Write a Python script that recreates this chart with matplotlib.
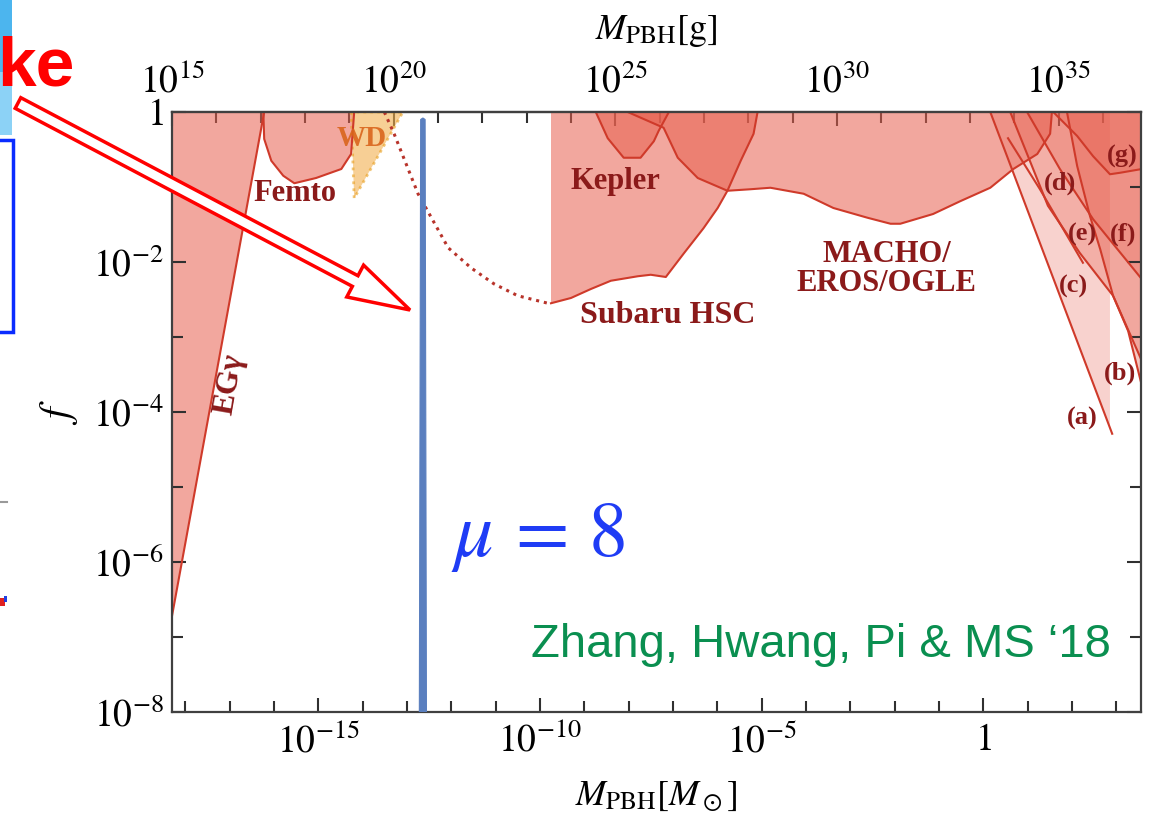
import numpy as np
import matplotlib
matplotlib.use('Agg')
import matplotlib.pyplot as plt
from matplotlib.patches import Polygon, Rectangle, FancyArrow
from matplotlib.ticker import FixedLocator, FixedFormatter, LogLocator, NullFormatter

plt.rcParams['mathtext.fontset'] = 'stix'
plt.rcParams['font.family'] = ['Liberation Serif', 'DejaVu Serif']

MSUN_G = 1.989e33

# all values are log10(M / Msun) and log10(f)
egg_logm = [-18.30, -16.22]
egg_logf = [-6.72, 0.0]

femto_logm = [-16.24, -16.22, -16.06, -15.79, -15.54, -15.05, -14.48, -14.26, -14.19]
femto_logf = [0.0, -0.36, -0.65, -0.85, -0.95, -0.88, -0.76, -0.56, 0.0]

wd_logm = [-14.26, -14.19, -13.09]
wd_logf = [0.0, -1.15, 0.0]

dotted_logm = [-13.51, -13.29, -12.75, -12.07, -11.55, -11.04, -10.50, -9.82]
dotted_logf = [0.0, -0.29, -1.09, -1.81, -2.08, -2.29, -2.45, -2.55]

hsc_logm = [-9.75, -9.75, -9.30, -8.85, -8.40, -7.79, -7.50, -7.16, -6.76, -6.31,
            -5.99, -5.77, -5.47, -5.18, -5.09]
hsc_logf = [0.0, -2.55, -2.48, -2.36, -2.25, -2.19, -2.17, -2.20, -1.89, -1.55,
            -1.28, -1.05, -0.65, -0.29, 0.0]

kepler_logm = [-8.74, -8.47, -8.11, -7.73, -7.43, -7.32, -7.09]
kepler_logf = [0.0, -0.35, -0.61, -0.61, -0.39, -0.25, 0.0]

macho_logm = [-8.02, -7.21, -6.89, -6.44, -5.77, -5.25, -4.80, -4.05, -3.38, -2.61,
              -2.09, -1.87, -1.13, -0.52, 0.16, 0.68, 1.22, 1.51, 1.55]
macho_logf = [0.0, -0.21, -0.61, -0.88, -1.05, -1.03, -1.01, -1.09, -1.28, -1.41,
              -1.49, -1.49, -1.36, -1.19, -1.01, -0.76, -0.56, -0.29, 0.0]

# large-mass constraints (a)-(g)
a_logm = [0.16, 2.91]
a_logf = [0.0, -4.29]
a_cut = 2.86
b_logm = [1.89, 2.12, 2.41, 2.64, 2.93, 3.27, 3.58]
b_logf = [0.0, -0.72, -1.39, -1.83, -2.45, -2.92, -3.65]
c_logm = [0.61, 1.46, 2.18, 2.93, 3.58]
c_logf = [0.0, -1.25, -1.88, -2.45, -3.32]
d_logm = [0.56, 1.28, 2.25]
d_logf = [-0.35, -1.03, -2.01]
f_logm = [0.99, 1.73, 2.48, 3.58]
f_logf = [0.0, -0.76, -1.43, -2.23]
g_logm = [1.58, 2.12, 2.48, 2.86, 3.09, 3.58]
g_logf = [0.0, -0.32, -0.59, -0.83, -0.81, -0.76]

# the mu = 8 peak
spike_logm = [-12.72, -12.69, -12.64, -12.59, -12.56]
spike_logf = [-8.0, -0.10, -0.08, -0.10, -8.0]

XMIN, XMAX = -18.30, 3.56
FILL = '#e8604f'
EDGE = '#cf3a2a'
LABEL = '#8b1a1a'


def p(lm, lf):
    return np.column_stack([10.0 ** np.asarray(lm), 10.0 ** np.asarray(lf)])


fig = plt.figure(figsize=(11.51, 8.24), dpi=100)
ax = fig.add_axes([172 / 1151, 1 - 712 / 824, (1141 - 172) / 1151, 600 / 824])
ax.set_xscale('log')
ax.set_yscale('log')
ax.set_xlim(10 ** XMIN, 10 ** XMAX)
ax.set_ylim(1e-8, 1)

# EG gamma
eg = p(egg_logm + [XMIN], egg_logf + [0.0])
ax.add_patch(Polygon(eg, closed=True, fc=FILL, alpha=0.55, ec='none'))
ax.plot(*p(egg_logm, egg_logf).T, color=EDGE, lw=1.5)

# femto lensing
ax.add_patch(Polygon(p(femto_logm, femto_logf), closed=True, fc=FILL, alpha=0.55, ec='none'))
ax.plot(*p(femto_logm, femto_logf).T, color=EDGE, lw=1.5)

# white dwarfs
ax.add_patch(Polygon(p(wd_logm, wd_logf), closed=True, fc='#f2b04e', alpha=0.6,
                     ec='#e8a020', lw=2, ls=(0, (1, 1.5))))

# projected HSC reach
ax.plot(*p(dotted_logm, dotted_logf).T, color='#b8332a', lw=2.2, ls=(0, (1, 1.6)))

# Subaru HSC
ax.add_patch(Polygon(p(hsc_logm, hsc_logf), closed=True, fc=FILL, alpha=0.55, ec='none'))
ax.plot(*p(hsc_logm[1:], hsc_logf[1:]).T, color=EDGE, lw=1.5)

# Kepler
ax.add_patch(Polygon(p(kepler_logm, kepler_logf), closed=True, fc=FILL, alpha=0.55, ec='none'))
ax.plot(*p(kepler_logm, kepler_logf).T, color=EDGE, lw=1.5)

# MACHO / EROS / OGLE
ax.add_patch(Polygon(p(macho_logm, macho_logf), closed=True, fc=FILL, alpha=0.55, ec='none'))
ax.plot(*p(macho_logm, macho_logf).T, color=EDGE, lw=1.5)

# (a)
a_y = np.interp(a_cut, a_logm, a_logf)
ax.add_patch(Polygon(p([a_logm[0], a_cut, a_cut], [0.0, a_y, 0.0]), closed=True,
                     fc=FILL, alpha=0.28, ec='none'))
ax.plot(*p(a_logm, a_logf).T, color=EDGE, lw=1.5)

# (b), (c), (f), (g): shaded to the upper right of each curve
for lm, lf, al in [(b_logm, b_logf, 0.35), (c_logm, c_logf, 0.3), (f_logm, f_logf, 0.3),
                   (g_logm, g_logf, 0.35)]:
    poly = p(lm + [XMAX + 0.1, XMAX + 0.1, lm[0]], lf + [lf[-1], 0.0, 0.0])
    ax.add_patch(Polygon(poly, closed=True, fc=FILL, alpha=al, ec='none'))
    ax.plot(*p(lm, lf).T, color=EDGE, lw=1.5)
# (d) / (e) boundary line
ax.plot(*p(d_logm, d_logf).T, color=EDGE, lw=1.5)

# spike
ax.add_patch(Polygon(p(spike_logm, spike_logf), closed=True, fc='#5a7fbf', ec='#5a7fbf',
                     lw=0.8, zorder=5))

# region labels
lab = dict(color=LABEL, fontweight='bold', fontsize=22, ha='center', va='center')
ax.text(10 ** -15.52, 10 ** -1.09, 'Femto', **lab)
ax.text(10 ** -8.29, 10 ** -0.92, 'Kepler', **lab)
ax.text(10 ** -7.12, 10 ** -2.71, 'Subaru HSC', color=LABEL, fontweight='bold',
        fontsize=23, ha='center', va='center')
ax.text(10 ** -2.18, 10 ** -2.09, 'MACHO/\nEROS/OGLE', multialignment='center',
        linespacing=1.0, **lab)
ax.text(10 ** -17.0, 10 ** -3.63, 'EGγ', rotation=80, color=LABEL, fontweight='bold',
        fontsize=23, ha='center', va='center')
ax.text(10 ** -14.03, 10 ** -0.35, 'WD', color='#d9651c', fontweight='bold', fontsize=21,
        ha='center', va='center', alpha=0.9)
small = dict(color=LABEL, fontweight='bold', fontsize=19, ha='center', va='center')
for t, lm, lf in [('(a)', 2.23, -4.08), ('(b)', 3.09, -3.48), ('(c)', 2.03, -2.32),
                  ('(d)', 1.73, -0.95), ('(e)', 2.23, -1.63), ('(f)', 3.15, -1.63),
                  ('(g)', 3.13, -0.59)]:
    ax.text(10 ** lm, 10 ** lf, t, **small)

# axes styling
for s in ax.spines.values():
    s.set_color('#404040')
    s.set_linewidth(1.6)

ax.xaxis.set_major_locator(FixedLocator([1e-15, 1e-10, 1e-5, 1]))
ax.xaxis.set_major_formatter(FixedFormatter([r'$10^{-15}$', r'$10^{-10}$', r'$10^{-5}$', r'$1$']))
ax.xaxis.set_minor_locator(LogLocator(base=10, subs=(1.0,), numticks=60))
ax.xaxis.set_minor_formatter(NullFormatter())
ax.yaxis.set_major_locator(FixedLocator([1e-8, 1e-6, 1e-4, 1e-2, 1]))
ax.yaxis.set_major_formatter(FixedFormatter([r'$10^{-8}$', r'$10^{-6}$', r'$10^{-4}$',
                                             r'$10^{-2}$', r'$1$']))
ax.yaxis.set_minor_locator(LogLocator(base=10, subs=(1.0,), numticks=60))
ax.yaxis.set_minor_formatter(NullFormatter())
ax.tick_params(which='both', direction='in', top=False, right=True, color='#303030',
               width=1.5, labelsize=27)
ax.tick_params(which='major', length=10)
ax.tick_params(which='minor', length=8)
ax.tick_params(axis='x', pad=8)
ax.tick_params(axis='y', pad=6)

sec = ax.secondary_xaxis('top', functions=(lambda m: m * MSUN_G, lambda g: g / MSUN_G))
sec.xaxis.set_major_locator(FixedLocator([1e15, 1e20, 1e25, 1e30, 1e35]))
sec.xaxis.set_major_formatter(FixedFormatter([r'$10^{15}$', r'$10^{20}$', r'$10^{25}$',
                                              r'$10^{30}$', r'$10^{35}$']))
sec.xaxis.set_minor_locator(LogLocator(base=10, subs=(1.0,), numticks=60))
sec.xaxis.set_minor_formatter(NullFormatter())
sec.tick_params(which='both', direction='in', color='#303030', width=1.5, labelsize=27, pad=8)
sec.tick_params(which='major', length=10)
sec.tick_params(which='minor', length=8)
sec.spines['top'].set_color('#404040')
sec.spines['top'].set_linewidth(1.6)
sec.set_xlabel(r'$M_{\rm PBH}[{\rm g}]$', fontsize=26, labelpad=18)

ax.set_xlabel(r'$M_{\rm PBH}[M_\odot]$', fontsize=26, labelpad=14)
ax.set_ylabel(r'$f$', fontsize=30)
ax.yaxis.set_label_coords(-0.095, 0.5)

# slide overlay in pixel coordinates
deco = fig.add_axes([0, 0, 1, 1], zorder=10)
deco.set_xlim(0, 1151)
deco.set_ylim(824, 0)
deco.axis('off')
deco.patch.set_alpha(0)
deco.add_patch(Rectangle((0, 0), 12, 72, fc='#4cb5ee', ec='none'))
deco.add_patch(Rectangle((0, 72), 12, 63, fc='#8cd2f6', ec='none'))
deco.add_patch(Rectangle((-10, 140), 23, 192, fc='none', ec='#0a2cff', lw=2.5))
deco.plot([0, 7], [502, 502], color='#999999', lw=1.5)
deco.add_patch(Rectangle((0, 598), 5, 8, fc='#e02020', ec='none'))
deco.add_patch(Rectangle((4, 596), 3, 6, fc='#2040e0', ec='none'))
deco.text(-3, 85, 'ke', fontsize=50, color='#ff0000', fontweight='bold',
          family='Liberation Sans', ha='left', va='baseline')
deco.add_patch(FancyArrow(18, 103, 392, 207, width=12, head_width=36, head_length=62,
                          length_includes_head=True, fc='white', ec='#ff0000', lw=2.5))
deco.text(538, 537, r'$\mu\,=\,8$', fontsize=56, color='#1f3cf5', ha='center', va='center')
deco.text(531, 657, 'Zhang, Hwang, Pi & MS \u201818', fontsize=34, color='#0a8f50',
          family='Liberation Sans', ha='left', va='baseline')

fig.savefig('out.png', dpi=100, facecolor='white')
